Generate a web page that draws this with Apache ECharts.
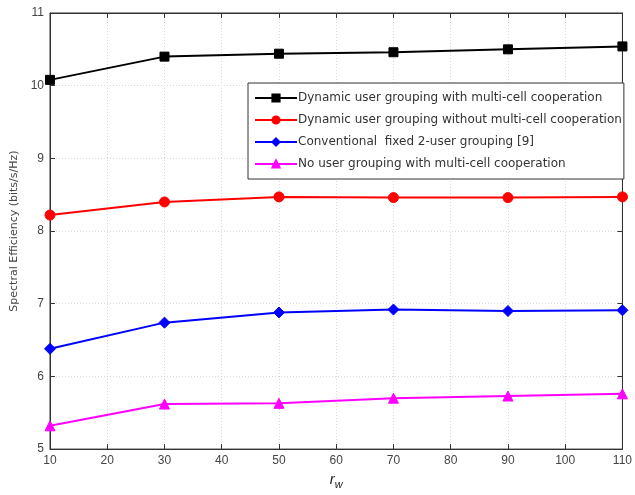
<!DOCTYPE html>
<html>
<head>
<meta charset="utf-8">
<script src="https://cdn.jsdelivr.net/npm/echarts@6/dist/echarts.min.js"></script>
<style>
  html, body { margin: 0; padding: 0; background: #fff; }
  #chart { width: 635px; height: 495px; }
</style>
</head>
<body>
<div id="chart"></div>
<script>
// Window size r_w on the x axis
const windowSizes = [10, 30, 50, 70, 90, 110];

// Spectral efficiency (bits/s/Hz) for each scheme
const dynamicWithCoop = [10.08, 10.40, 10.44, 10.46, 10.50, 10.54];
const dynamicWithoutCoop = [8.22, 8.40, 8.47, 8.46, 8.46, 8.47];
const fixedTwoUser = [6.38, 6.74, 6.88, 6.92, 6.90, 6.91];
const noGroupingCoop = [5.32, 5.62, 5.63, 5.70, 5.73, 5.76];

const seriesNames = [
  'Dynamic user grouping with multi-cell cooperation',
  'Dynamic user grouping without multi-cell cooperation',
  'Conventional  fixed 2-user grouping [9]',
  'No user grouping with multi-cell cooperation'
];

const yTicks = [5, 6, 7, 8, 9, 10, 11];
const xTicks = [10, 20, 30, 40, 50, 60, 70, 80, 90, 100, 110];

const font = 'Liberation Sans, Arial, sans-serif';
const wideFont = 'DejaVu Sans, Verdana, sans-serif';

function pairs(values) {
  return windowSizes.map((x, i) => [x, values[i]]);
}

function makeSeries(name, values, color, symbol, size) {
  return {
    name: name,
    type: 'line',
    data: pairs(values),
    symbol: symbol,
    symbolSize: size,
    lineStyle: { color: color, width: 2 },
    itemStyle: { color: color, borderColor: color, borderWidth: 1 },
    emphasis: { disabled: true },
    animation: false,
    z: 3
  };
}

const chart = echarts.init(document.getElementById('chart'));

const sharedGrid = { show: true, lineStyle: { color: '#d8d8d8', type: [1, 2], width: 1 } };

chart.setOption({
  backgroundColor: '#ffffff',
  animation: false,
  grid: { left: 50, top: 13, right: 8, bottom: 38, show: true, borderColor: '#333', borderWidth: 1 },
  legend: {
    orient: 'vertical',
    left: 248,
    top: 83,
    width: 376,
    padding: [9, 2, 9, 6],
    itemGap: 10,
    itemWidth: 42,
    itemHeight: 9,
    backgroundColor: '#ffffff',
    borderColor: '#333',
    borderWidth: 1,
    textStyle: { fontFamily: wideFont, fontSize: 12, color: '#333', padding: [0, 0, 0, -4] },
    data: seriesNames
  },
  xAxis: [{
    type: 'value',
    min: 10,
    max: 110,
    interval: 10,
    position: 'bottom',
    name: '{r|r}{w|w}',
    nameLocation: 'middle',
    nameGap: 18,
    nameTextStyle: {
      rich: {
        r: { fontFamily: font, fontSize: 15, fontStyle: 'italic', color: '#222' },
        w: { fontFamily: font, fontSize: 11, fontStyle: 'italic', color: '#222', padding: [10, 0, 0, 0] }
      }
    },
    axisLine: { show: true, lineStyle: { color: '#333', width: 1 } },
    axisTick: { show: true, inside: true, length: 5, lineStyle: { color: '#333' } },
    axisLabel: { fontFamily: font, fontSize: 12, color: '#444', margin: 6,
      formatter: v => xTicks.includes(v) ? String(v) : '' },
    splitLine: sharedGrid
  }, {
    type: 'value',
    min: 10,
    max: 110,
    interval: 10,
    position: 'top',
    axisLine: { show: true, lineStyle: { color: '#333', width: 1 } },
    axisTick: { show: true, inside: true, length: 5, lineStyle: { color: '#333' } },
    axisLabel: { show: false },
    splitLine: { show: false }
  }],
  yAxis: [{
    type: 'value',
    min: 5,
    max: 11,
    interval: 1,
    position: 'left',
    name: 'Spectral Efficiency (bits/s/Hz)',
    nameLocation: 'middle',
    nameGap: 29,
    nameTextStyle: { fontFamily: wideFont, fontSize: 11, color: '#444' },
    axisLine: { show: true, lineStyle: { color: '#333', width: 1 } },
    axisTick: { show: true, inside: true, length: 5, lineStyle: { color: '#333' } },
    axisLabel: { fontFamily: font, fontSize: 12, color: '#444', margin: 6,
      formatter: v => yTicks.includes(v) ? String(v) : '' },
    splitLine: sharedGrid
  }, {
    type: 'value',
    min: 5,
    max: 11,
    interval: 1,
    position: 'right',
    axisLine: { show: true, lineStyle: { color: '#333', width: 1 } },
    axisTick: { show: true, inside: true, length: 5, lineStyle: { color: '#333' } },
    axisLabel: { show: false },
    splitLine: { show: false }
  }],
  series: [
    makeSeries(seriesNames[0], dynamicWithCoop, '#000000', 'rect', 9),
    makeSeries(seriesNames[1], dynamicWithoutCoop, '#ff0000', 'circle', 10),
    makeSeries(seriesNames[2], fixedTwoUser, '#0000ff', 'diamond', 11),
    makeSeries(seriesNames[3], noGroupingCoop, '#ff00ff', 'triangle', 10)
  ]
});
</script>
</body>
</html>
